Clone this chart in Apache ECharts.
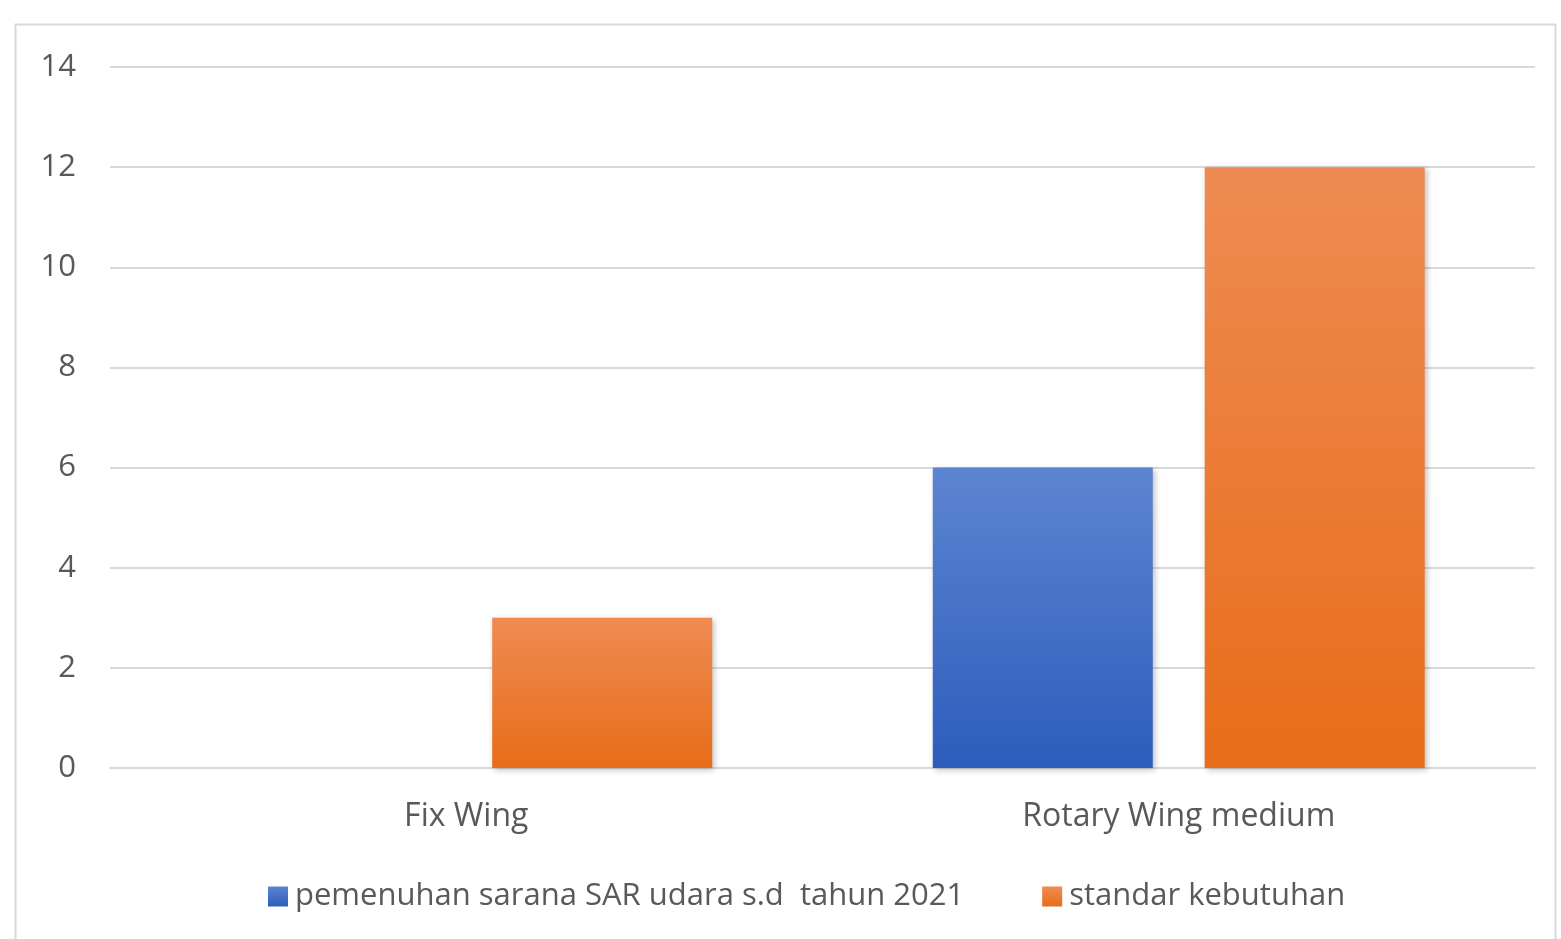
<!DOCTYPE html>
<html><head><meta charset="utf-8">
<script src="https://cdn.jsdelivr.net/npm/echarts@6/dist/echarts.min.js"></script>
<style>html,body{margin:0;padding:0;background:#fff}#c{width:1561px;height:939px}</style>
</head><body><div id="c"></div>
<script>
const categories = ['Fix Wing', 'Rotary Wing medium'];
const seriesNames = ['pemenuhan sarana SAR udara s.d  tahun 2021', 'standar kebutuhan'];
const pemenuhan = [0, 6];
const standar = [3, 12];
const yTicks = { min: 0, max: 14, interval: 2 };

const chart = echarts.init(document.getElementById('c'));
const font = '"Open Sans", "Noto Sans", sans-serif';
function grad(top, bottom){
  return new echarts.graphic.LinearGradient(0,0,0,1,[{offset:0,color:top},{offset:1,color:bottom}]);
}
chart.setOption({
  animation:false,
  backgroundColor:'#fff',
  graphic:[{type:'rect',shape:{x:15.5,y:24.5,width:1540,height:940},style:{fill:'none',stroke:'#d9d9d9',lineWidth:2},silent:true}],
  grid:{left:110,right:26,top:67,bottom:171},
  legend:{
    data:seriesNames, left:263, top:876, itemWidth:20, itemHeight:20, itemGap:78, icon:'rect',
    textStyle:{fontFamily:font,fontSize:31,color:'#595959',padding:[0,0,0,2]}
  },
  xAxis:{type:'category',data:categories,
    axisLine:{lineStyle:{color:'#d9d9d9',width:2}},axisTick:{show:false},
    axisLabel:{fontFamily:font,fontSize:32,color:'#595959',margin:33}},
  yAxis:{type:'value',min:yTicks.min,max:yTicks.max,interval:yTicks.interval,
    axisLine:{show:false},axisTick:{show:false},
    splitLine:{lineStyle:{color:'#d9d9d9',width:2}},
    axisLabel:{fontFamily:font,fontSize:31,color:'#595959',margin:34}},
  series:[
    {name:seriesNames[0],type:'bar',data:pemenuhan,barWidth:220,barGap:'23.6%',
      itemStyle:{color:grad('#5c85d1','#2d5dbc'),shadowBlur:6,shadowColor:'rgba(0,0,0,0.25)',shadowOffsetX:2,shadowOffsetY:2}},
    {name:seriesNames[1],type:'bar',data:standar,barWidth:220,barGap:'23.6%',
      itemStyle:{color:grad('#ef8b52','#e76d19'),shadowBlur:6,shadowColor:'rgba(0,0,0,0.25)',shadowOffsetX:2,shadowOffsetY:2}}
  ]
});
</script></body></html>
